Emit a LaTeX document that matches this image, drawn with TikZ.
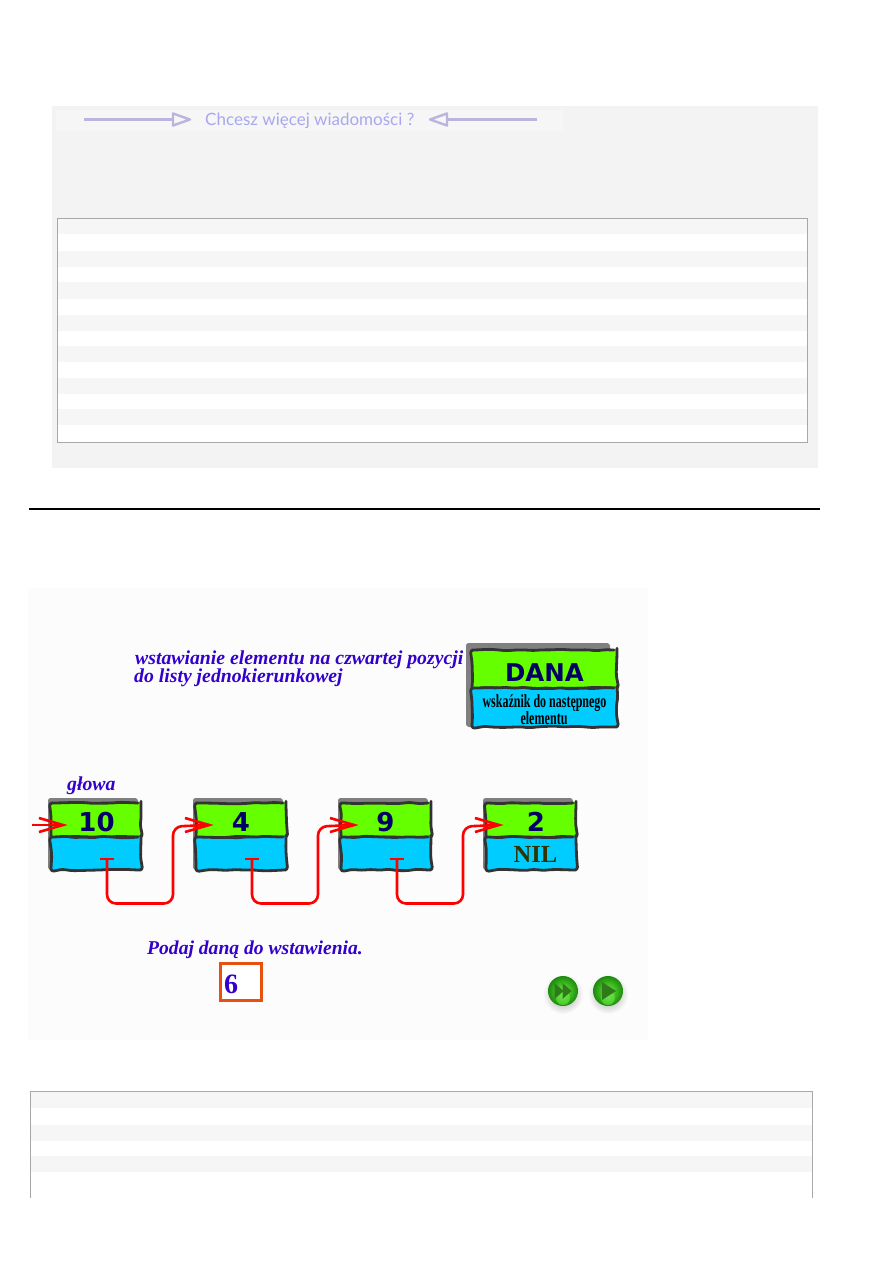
\documentclass[tikz,border=0pt]{standalone}
\usepackage{fontspec}
\setmainfont{Liberation Serif}
\newfontfamily\headfont{DejaVu Sans}
\newfontfamily\bannerfont{Lato}
\usetikzlibrary{decorations.pathmorphing,calc,arrows.meta}
\definecolor{panelgrey}{HTML}{F3F3F3}
\definecolor{rowgrey}{HTML}{F6F6F6}
\definecolor{rulegrey}{HTML}{A8A8A8}
\definecolor{appletbg}{HTML}{FCFCFC}
\definecolor{inkblue}{HTML}{3300CC}
\definecolor{navy}{HTML}{000066}
\definecolor{datagreen}{HTML}{66FF00}
\definecolor{ptrblue}{HTML}{00CCFF}
\definecolor{celledge}{HTML}{333333}
\definecolor{bannerink}{HTML}{A8A8F0}
\definecolor{bannerline}{HTML}{B9B5DD}
\definecolor{boxorange}{HTML}{E8500F}
\definecolor{orbrim}{HTML}{1C8A0C}
\definecolor{orbglow}{HTML}{66F03C}
\definecolor{orbmark}{HTML}{2F7A1A}
\tikzset{
  x=1pt,y=-1pt,
  wobbly/.style={draw=celledge,line width=2.8pt,line join=round,line cap=round,rounded corners=3pt,decorate,
    decoration={random steps,segment length=9pt,amplitude=0.8pt}},
  datacell/.style={wobbly,fill=datagreen,minimum width=90pt,minimum height=34pt,inner sep=0pt},
  ptrcell/.style={wobbly,fill=ptrblue,minimum width=90pt,minimum height=33pt,inner sep=0pt},
  cellvalue/.style={inner sep=0pt,text=navy,font=\headfont\fontsize{26}{26}\selectfont\bfseries},
  castshadow/.style={fill=black!50,rounded corners=3pt},
  lead/.style={draw=red,line width=2.6pt,rounded corners=9pt},
  barbs/.style={draw=red,line width=2.6pt},
  heading/.style={text=inkblue,anchor=base west,inner sep=0pt,
    font=\fontsize{19.75}{20}\selectfont\bfseries\itshape},
  bannerarrow/.style={draw=bannerline,line width=2.4pt},
  orb/.style={circle,minimum size=30pt,inner sep=0pt,inner color=orbglow,outer color=orbrim},
  orbglyph/.style={fill=orbmark},
}
% one list element: shadow, data cell, pointer cell and the stored value
\newcommand{\listcell}[4]{%
  \fill[castshadow] (#2-3,798) rectangle (#2+87,860);
  \fill[castshadow] (#2-3,798) rectangle (#2+6,870);
  \node[datacell] (d#1) at (#2+45,820) {};
  \node[ptrcell] (p#1) at (#2+45,853.5) {};
  \node[cellvalue] (v#1) at (#4,822) {#3};
}
\begin{document}
\begin{tikzpicture}
\useasboundingbox (0,0) rectangle (893,1263);
\fill[white] (0,0) rectangle (893,1263);

% upper panel with its banner and striped table
\fill[panelgrey] (52,106) rectangle (818,468);
\fill[black!3.5] (56,110) rectangle (563,131);
\draw[bannerarrow] (84,119.5) -- (173,119.5);
\draw[bannerarrow,line join=round] (173,113.5) -- (190,119.5) -- (173,125.5) -- cycle;
\draw[bannerarrow] (447,119.5) -- (537,119.5);
\draw[bannerarrow,line join=round] (447,113.5) -- (430,119.5) -- (447,125.5) -- cycle;
\node[text=bannerink,inner sep=0pt,anchor=base west,font=\bannerfont\fontsize{17}{17}\selectfont] (bannertext) at (205,125) {Chcesz więcej wiadomości ?};

\fill[white] (57,218) rectangle (807,442);
\foreach \a/\b in {218/234,251/267,282/299,315/331,346/362,378/394,409/425}
  \fill[rowgrey] (57,\a) rectangle (807,\b);
\draw[rulegrey,line width=0.9pt] (57,218) rectangle (807,442);

% separator
\draw[black,line width=1.6pt] (29,509) -- (820,509);

% list applet
\fill[appletbg] (28,588) rectangle (648,1040);

\node[heading] (title1) at (135,664) {wstawianie elementu na czwartej pozycji};
\node[heading] (title2) at (134,682) {do listy jednokierunkowej};

% legend cell
\fill[castshadow] (466,643) rectangle (610,700);
\fill[castshadow] (466,643) rectangle (478,727);
\node[wobbly,fill=datagreen,minimum width=145pt,minimum height=38pt,inner sep=0pt] (legendtop) at (544.5,669) {};
\node[wobbly,fill=ptrblue,minimum width=145pt,minimum height=39pt,inner sep=0pt] (legendbottom) at (544.5,707.5) {};
\node[inner sep=0pt,text=navy,font=\headfont\fontsize{24.5}{25}\selectfont\bfseries] (legendname) at (544.5,673) {DANA};
\node[inner sep=0pt,anchor=base] (legendtext1) at (544.5,707) {\resizebox{124pt}{!}{\fontsize{20}{20}\selectfont\bfseries\addfontfeatures{FakeStretch=0.65}wskaźnik do następnego}};
\node[inner sep=0pt,anchor=base] (legendtext2) at (544,724) {\resizebox{47pt}{!}{\fontsize{20}{20}\selectfont\bfseries\addfontfeatures{FakeStretch=0.65}elementu}};

\node[heading] (headlabel) at (67,790) {głowa};

\listcell{1}{51}{10}{96.5}
\listcell{2}{196}{4}{241}
\listcell{3}{341}{9}{385.5}
\listcell{4}{486}{2}{536}
\node[inner sep=0pt,text={rgb,255:red,51;green,51;blue,0},font=\fontsize{24.5}{26}\selectfont\bfseries] (nil) at (535.5,854) {NIL};

% pointers between consecutive elements
\coordinate (entry) at (32,825);
\coordinate (tip1) at (63,825);
\draw[barbs] (entry) -- (tip1);
\draw[barbs,line join=miter] (39,818) -- (tip1) -- (39,832);
\foreach \from/\to/\xs/\xm/\xe in {1/2/107/173/209, 2/3/252/318/354, 3/4/397/463/499}{
  \coordinate (tail\from) at (\xs,859);
  \coordinate (tip\to) at (\xe,825);
  \draw[barbs] (\xs-7,859) -- (\xs+7,859);
  \draw[lead] (tail\from) -- (\xs,903.5) -- (\xm,903.5) -- (\xm,826.5) -- (tip\to);
  \draw[barbs,line join=miter] (\xe-24,818) -- (tip\to) -- (\xe-24,832);
}

\node[heading,font=\fontsize{19.6}{20}\selectfont\bfseries\itshape] (prompt) at (147,954) {Podaj daną do wstawienia.};
\node[draw=boxorange,line width=3pt,fill=white,minimum width=41pt,minimum height=37.5pt,inner sep=0pt] (inputbox) at (240.5,982) {};
\node[text=inkblue,inner sep=0pt,anchor=base west,font=\fontsize{28}{28}\selectfont\bfseries] (inputvalue) at (224,993) {6};

% playback buttons
\foreach \nm/\cx in {fast/563,play/608}{
  \shade[inner color=black!40,outer color=appletbg] (\cx,994) circle (20pt);
  \node[orb] (\nm) at (\cx,991) {};
  \shade[inner color=orbglow!80!white,outer color=orbglow,opacity=.55] (\cx,998) circle (7pt);
}
\fill[orbglyph] (554.5,983) -- (563.5,991) -- (554.5,999) -- cycle;
\fill[orbglyph] (562.5,983) -- (571.5,991) -- (562.5,999) -- cycle;
\fill[orbglyph] (602,982) -- (616,991) -- (602,1000) -- cycle;

% lower table, running on past the page content
\foreach \a/\b in {1092/1108,1125/1141,1156/1172}
  \fill[rowgrey] (30,\a) rectangle (812,\b);
\draw[rulegrey,line width=0.9pt] (30,1198) -- (30,1091) -- (812,1091) -- (812,1198);
\end{tikzpicture}
\end{document}
